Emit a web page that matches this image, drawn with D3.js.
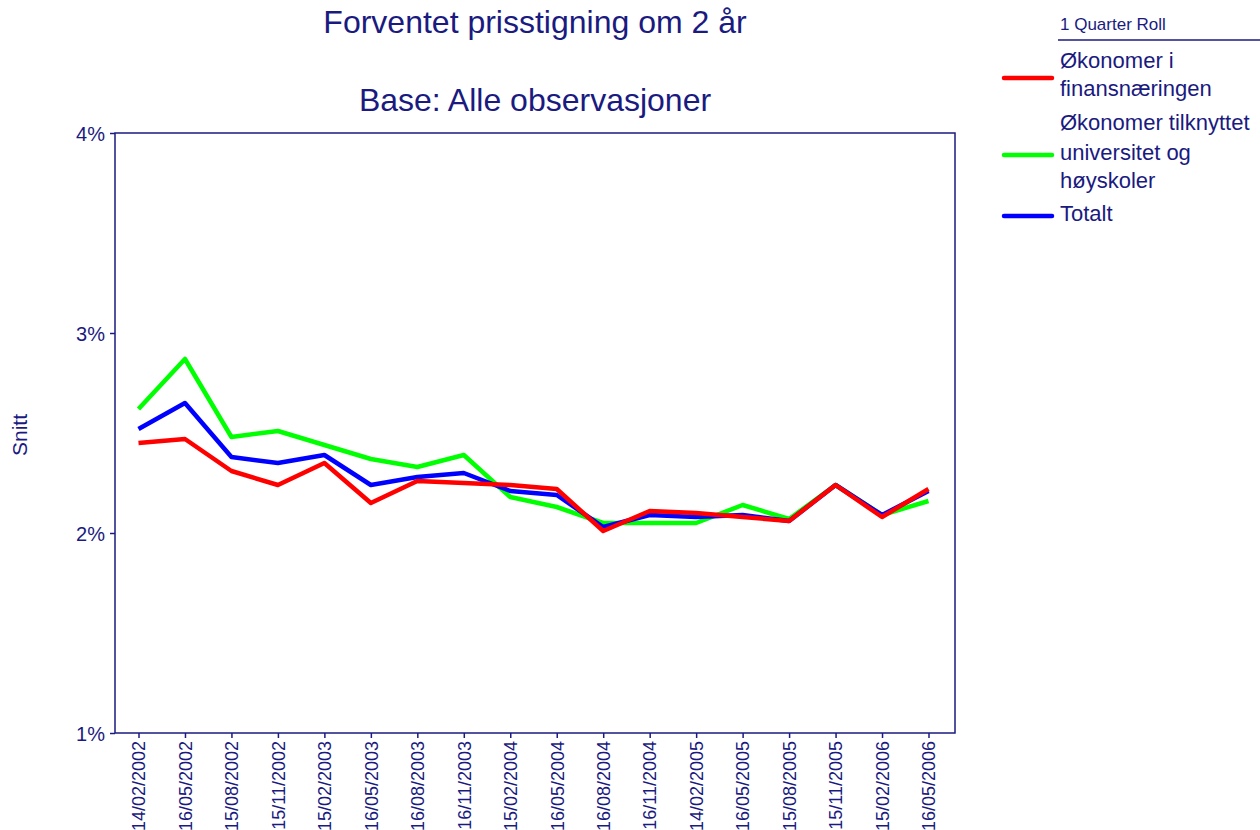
<!DOCTYPE html>
<html>
<head>
<meta charset="utf-8">
<script src="https://cdn.jsdelivr.net/npm/d3@7"></script>
<style>
  body { margin: 0; background: #fff; }
  text { font-family: "Liberation Sans", Arial, sans-serif; fill: #1a1a80; }
</style>
</head>
<body>
<svg id="chart" width="1260" height="830"></svg>
<script>
// dates on x axis
var dates = ["14/02/2002", "16/05/2002", "15/08/2002", "15/11/2002", "15/02/2003", "16/05/2003",
  "16/08/2003", "16/11/2003", "15/02/2004", "16/05/2004", "16/08/2004", "16/11/2004",
  "14/02/2005", "16/05/2005", "15/08/2005", "15/11/2005", "15/02/2006", "16/05/2006"];

var finans = [2.45, 2.47, 2.31, 2.24, 2.35, 2.15, 2.26, 2.25, 2.24, 2.22, 2.01, 2.11,
  2.10, 2.08, 2.06, 2.24, 2.08, 2.22];
var univ = [2.62, 2.87, 2.48, 2.51, 2.44, 2.37, 2.33, 2.39, 2.18, 2.13, 2.05, 2.05,
  2.05, 2.14, 2.07, 2.24, 2.09, 2.16];
var totalt = [2.52, 2.65, 2.38, 2.35, 2.39, 2.24, 2.28, 2.30, 2.21, 2.19, 2.03, 2.09,
  2.08, 2.09, 2.06, 2.24, 2.09, 2.21];

var yTicks = [1, 2, 3, 4];

var seriesNames = [["Økonomer i", "finansnæringen"], ["Økonomer tilknyttet", "universitet og", "høyskoler"], ["Totalt"]];
var seriesColors = ["#ff0000", "#00ff00", "#0000ff"];

var navy = "#1a1a80";
var svg = d3.select("#chart");
var plot = {left: 115, top: 133, right: 955, bottom: 733};

var x = d3.scalePoint().domain(dates).range([138.5, 928.5]);
var y = d3.scaleLinear().domain([1, 4]).range([plot.bottom, plot.top]);

// titles
svg.append("text").attr("x", 535).attr("y", 33).attr("text-anchor", "middle")
  .style("font-size", "32px").text("Forventet prisstigning om 2 år");
svg.append("text").attr("x", 535).attr("y", 111).attr("text-anchor", "middle")
  .style("font-size", "32px").text("Base: Alle observasjoner");

// frame
svg.append("rect")
  .attr("x", plot.left).attr("y", plot.top)
  .attr("width", plot.right - plot.left).attr("height", plot.bottom - plot.top)
  .attr("fill", "none").attr("stroke", navy).attr("stroke-width", 1.5);

// y axis
var yAxis = svg.append("g")
  .attr("transform", "translate(" + plot.left + ",0)")
  .call(d3.axisLeft(y).tickValues(yTicks).tickSize(5).tickSizeOuter(0)
    .tickFormat(function(d) { return d + "%"; }));
yAxis.select(".domain").remove();
yAxis.selectAll("line").attr("stroke", navy).attr("stroke-width", 1.5);
yAxis.selectAll("text").attr("fill", navy).style("font-size", "20px").attr("x", -10).attr("dy", "0.35em");

svg.append("text")
  .attr("transform", "translate(27,435) rotate(-90)")
  .attr("text-anchor", "middle").style("font-size", "21px").text("Snitt");

// x axis
var xAxis = svg.append("g")
  .attr("transform", "translate(0," + plot.bottom + ")")
  .call(d3.axisBottom(x).tickSize(5).tickSizeOuter(0));
xAxis.select(".domain").remove();
xAxis.selectAll("line").attr("stroke", navy).attr("stroke-width", 1.5);
xAxis.selectAll("text")
  .attr("fill", navy).style("font-size", "18px")
  .attr("transform", "rotate(-90)")
  .attr("x", -8).attr("y", 0).attr("dy", "0.35em")
  .attr("text-anchor", "end");

// lines
var line = d3.line()
  .x(function(d, i) { return x(dates[i]); })
  .y(function(d) { return y(d); });

[[univ, seriesColors[1]], [totalt, seriesColors[2]], [finans, seriesColors[0]]].forEach(function(s) {
  svg.append("path")
    .datum(s[0])
    .attr("d", line)
    .attr("fill", "none")
    .attr("stroke", s[1])
    .attr("stroke-width", 4.5)
    .attr("stroke-linejoin", "round");
});

// legend
svg.append("text").attr("x", 1060).attr("y", 30).style("font-size", "17px").text("1 Quarter Roll");
svg.append("line").attr("x1", 1058).attr("x2", 1260).attr("y1", 40).attr("y2", 40)
  .attr("stroke", navy).attr("stroke-width", 1.5);

var legendY = [[68, 96], [130, 160, 188], [221]];
var legendLineY = [78, 155, 216];
seriesNames.forEach(function(lines, i) {
  svg.append("line")
    .attr("x1", 1004).attr("x2", 1052)
    .attr("y1", legendLineY[i]).attr("y2", legendLineY[i])
    .attr("stroke", seriesColors[i]).attr("stroke-width", 4.5).attr("stroke-linecap", "round");
  lines.forEach(function(t, j) {
    svg.append("text").attr("x", 1060).attr("y", legendY[i][j])
      .style("font-size", "22px").text(t);
  });
});
</script>
</body>
</html>
